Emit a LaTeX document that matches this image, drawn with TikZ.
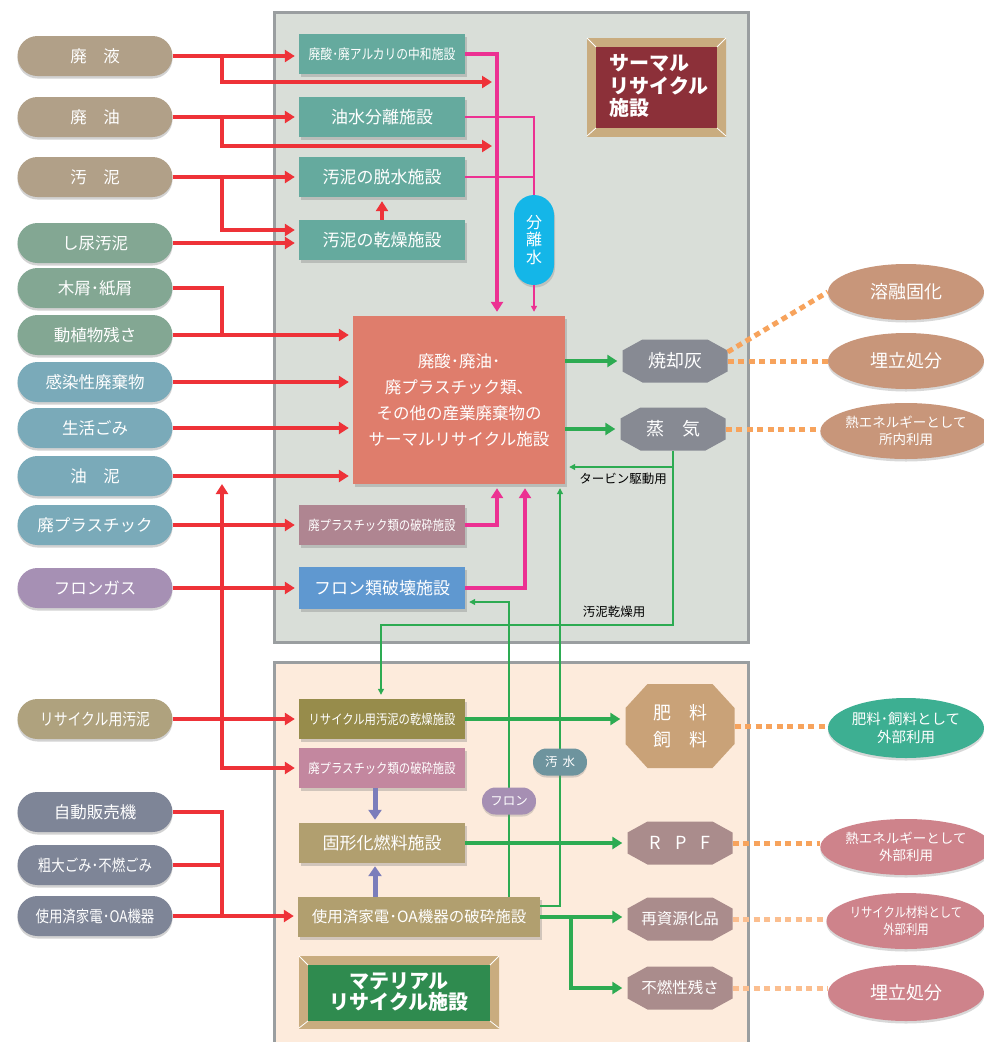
\documentclass[tikz,border=0pt]{standalone}
\usepackage{fontspec}
\setmainfont{Noto Sans CJK JP}
\newfontfamily\narrowjp{Noto Sans CJK JP}[FakeStretch=0.84]
\usetikzlibrary{positioning,calc,shapes.misc,shapes.geometric,shadows,arrows.meta}

\definecolor{redA}{HTML}{EE3238}
\definecolor{pinkA}{HTML}{EC3192}
\definecolor{greenA}{HTML}{2DAB52}
\definecolor{lavA}{HTML}{7B7DBB}
\definecolor{orangeA}{HTML}{F7A35C}
\definecolor{orangeB}{HTML}{FBBE8F}
\definecolor{thermalBg}{HTML}{D9DED8}
\definecolor{materialBg}{HTML}{FDEBDC}
\definecolor{borderGray}{HTML}{9A9EA0}
\definecolor{goldA}{HTML}{C9AC7F}
\definecolor{goldB}{HTML}{EEE2CA}
\definecolor{labelRed}{HTML}{8C3039}
\definecolor{labelGreen}{HTML}{2F8B4F}
\definecolor{pillTan}{HTML}{B1A088}
\definecolor{pillGreen}{HTML}{83A793}
\definecolor{pillBlue}{HTML}{7AAAB9}
\definecolor{pillPurple}{HTML}{A690B4}
\definecolor{pillOlive}{HTML}{AFA27E}
\definecolor{pillSlate}{HTML}{7E8597}
\definecolor{plantTeal}{HTML}{65AA9E}
\definecolor{mainSalmon}{HTML}{DF7D6C}
\definecolor{plantMauve}{HTML}{AF8591}
\definecolor{plantBlue}{HTML}{5F98D0}
\definecolor{plantOlive}{HTML}{978C4B}
\definecolor{plantPink}{HTML}{C3879F}
\definecolor{plantTan}{HTML}{B19F6F}
\definecolor{ashGray}{HTML}{878A93}
\definecolor{feedTan}{HTML}{C9A278}
\definecolor{rpfMauve}{HTML}{AA8C8C}
\definecolor{sepCyan}{HTML}{14B6E8}
\definecolor{tagBlue}{HTML}{6E949E}
\definecolor{tagPurple}{HTML}{A68FB3}
\definecolor{ovalBrown}{HTML}{C8967A}
\definecolor{ovalTeal}{HTML}{3DAF92}
\definecolor{ovalPink}{HTML}{CE838B}

\tikzstyle{pill} = [rounded rectangle, minimum width=155pt, minimum height=40pt,
    inner sep=0pt, text=white, font=\fontsize{16.5}{19}\selectfont,
    drop shadow={shadow xshift=0pt, shadow yshift=-2.5pt, opacity=0.35}]
\tikzstyle{plant} = [rectangle, minimum width=166pt, minimum height=40pt,
    inner sep=0pt, text=white, font=\fontsize{17}{19}\selectfont,
    drop shadow={shadow xshift=1.5pt, shadow yshift=-2.5pt, opacity=0.35}]
\tikzstyle{mainbox} = [rectangle, fill=mainSalmon, minimum width=212pt, minimum height=168pt,
    text=white, align=center, font=\fontsize{16.5}{26}\selectfont,
    drop shadow={shadow xshift=2pt, shadow yshift=-2.5pt, opacity=0.35}]
\tikzstyle{oval} = [ellipse, minimum width=156pt, minimum height=56pt, inner sep=0pt,
    text=white, align=center, font=\fontsize{18}{20}\selectfont,
    drop shadow={shadow xshift=0pt, shadow yshift=-2.5pt, opacity=0.3}]
\tikzstyle{tag} = [rounded rectangle, minimum width=54pt, minimum height=27pt, inner sep=0pt,
    text=white, font=\fontsize{12.5}{14}\selectfont,
    drop shadow={shadow xshift=0pt, shadow yshift=-2pt, opacity=0.3}]
\tikzstyle{note} = [inner sep=0pt, font=\fontsize{12.5}{14}\selectfont]
\tikzstyle{redline} = [draw=redA, line width=4pt, shorten >=4pt, -{Triangle[length=10pt,width=12pt]}]
\tikzstyle{redplain} = [draw=redA, line width=4pt]
\tikzstyle{pinkline} = [draw=pinkA, line width=4pt, shorten >=4pt, -{Triangle[length=10pt,width=12pt]}]
\tikzstyle{pinkthin} = [draw=pinkA, line width=1.3pt]
\tikzstyle{greenline} = [draw=greenA, line width=4pt, shorten >=5pt, -{Triangle[length=10pt,width=12pt]}]
\tikzstyle{greenthin} = [draw=greenA, line width=1.3pt, shorten >=4pt, -{Triangle[length=6pt,width=6pt]}]
\tikzstyle{lavline} = [draw=lavA, line width=5pt, shorten >=3pt, -{Triangle[length=10pt,width=13pt]}]
\tikzstyle{dotline} = [draw=orangeA, line width=5pt, dash pattern=on 6pt off 4.5pt]
\tikzstyle{dotlight} = [draw=orangeB, line width=5pt, dash pattern=on 6pt off 4.5pt]
\tikzset{octa/.style n args={3}{rectangle, minimum width=105pt, minimum height=43pt,
    inner sep=0pt, text=white, align=center, font=\fontsize{18}{27}\selectfont,
    path picture={\fill[#1]
      ([xshift=#2pt]path picture bounding box.north west) --
      ([xshift=-#2pt]path picture bounding box.north east) --
      ([yshift=-#3pt]path picture bounding box.north east) --
      ([yshift=#3pt]path picture bounding box.south east) --
      ([xshift=-#2pt]path picture bounding box.south east) --
      ([xshift=#2pt]path picture bounding box.south west) --
      ([yshift=#3pt]path picture bounding box.south west) --
      ([yshift=-#3pt]path picture bounding box.north west) -- cycle;}}}

\begin{document}
\begin{tikzpicture}[x=1pt, y=-1pt]
    \path[use as bounding box, fill=white] (0,0) rectangle (984,1042);
    % Draw boxes
    \draw[draw=borderGray, line width=3pt, fill=thermalBg] (274,12) rectangle (748,642);
    \draw[draw=borderGray, line width=3pt, fill=materialBg] (274,662) rectangle (748,1060);
    \shade[left color=goldA, middle color=goldB, right color=goldA] (587,38) rectangle (726,136);
    \fill[labelRed] (596,47) rectangle (717,128);
    \draw[white, line width=0.8pt] (587,38) -- (596,47) (726,38) -- (717,47)
        (587,136) -- (596,128) (726,136) -- (717,128);
    \shade[left color=goldA, middle color=goldB, right color=goldA] (299,956) rectangle (499,1028);
    \fill[labelGreen] (308,965) rectangle (490,1021);
    \draw[white, line width=0.8pt] (299,956) -- (308,965) (499,956) -- (490,965)
        (299,1028) -- (308,1021) (499,1028) -- (490,1021);
    \node[anchor=west, text=white, align=left, font=\bfseries\fontsize{20}{22.5}\selectfont]
        (tlabel) at (606,86) {サーマル\\リサイクル\\施設};
    \node[text=white, align=center, font=\bfseries\fontsize{20}{21.5}\selectfont]
        (mlabel) at (399,992) {マテリアル\\リサイクル施設};

    % Place nodes
    \node[pill, fill=pillTan] (liq) at (95,56) {廃　液};
    \node[pill, fill=pillTan] (oil) at (95,117) {廃　油};
    \node[pill, fill=pillTan] (sludge) at (95,177) {汚　泥};
    \node[pill, fill=pillGreen] (nsoil) at (95,243) {し尿汚泥};
    \node[pill, fill=pillGreen] (wood) at (95,288) {木屑･紙屑};
    \node[pill, fill=pillGreen] (food) at (95,335) {動植物残さ};
    \node[pill, fill=pillBlue] (med) at (95,382) {感染性廃棄物};
    \node[pill, fill=pillBlue] (life) at (95,428) {生活ごみ};
    \node[pill, fill=pillBlue] (oilsl) at (95,476) {油　泥};
    \node[pill, fill=pillBlue] (plast) at (95,525) {廃プラスチック};
    \node[pill, fill=pillPurple] (freon) at (95,588) {フロンガス};
    \node[pill, fill=pillOlive, font=\narrowjp\fontsize{16.5}{18}\selectfont] (rsl) at (95,719) {リサイクル用汚泥};
    \node[pill, fill=pillSlate] (vend) at (95,812) {自動販売機};
    \node[pill, fill=pillSlate, font=\narrowjp\fontsize{16}{18}\selectfont] (bulky) at (95,865) {粗大ごみ･不燃ごみ};
    \node[pill, fill=pillSlate, font=\narrowjp\fontsize{16}{18}\selectfont] (appl) at (95,916) {使用済家電･OA機器};

    \node[plant, fill=plantTeal, font=\narrowjp\fontsize{14}{16}\selectfont] (neutral) at (382,54) {廃酸･廃アルカリの中和施設};
    \node[plant, fill=plantTeal] (sepa) at (382,117) {油水分離施設};
    \node[plant, fill=plantTeal] (dewater) at (382,177) {汚泥の脱水施設};
    \node[plant, fill=plantTeal] (dryer) at (382,240) {汚泥の乾燥施設};
    \node[mainbox] (thermal) at (459,400) {廃酸･廃油･\\廃プラスチック類、\\その他の産業廃棄物の\\サーマルリサイクル施設};
    \node[plant, fill=plantMauve, font=\narrowjp\fontsize{13.5}{15}\selectfont] (crushA) at (382,525) {廃プラスチック類の破砕施設};
    \node[plant, fill=plantBlue, minimum height=42pt] (freonD) at (382,588) {フロン類破壊施設};
    \node[rectangle, rounded corners=20pt, fill=sepCyan, minimum width=40pt, minimum height=90pt,
        text=white, align=center, font=\fontsize{16}{17.5}\selectfont,
        drop shadow={shadow xshift=1pt, shadow yshift=-2.5pt, opacity=0.3}] (sepwater) at (534,240) {分\\離\\水};
    \node[octa={ashGray}{20}{11}] (ash) at (675,361) {焼却灰};
    \node[octa={ashGray}{20}{11}] (steam) at (673,429) {蒸　気};

    \node[plant, fill=plantOlive, font=\narrowjp\fontsize{13.5}{15}\selectfont] (rdry) at (382,719) {リサイクル用汚泥の乾燥施設};
    \node[plant, fill=plantPink, font=\narrowjp\fontsize{13.5}{15}\selectfont] (crushB) at (382,768) {廃プラスチック類の破砕施設};
    \node[plant, fill=plantTan] (rpfplant) at (382,843) {固形化燃料施設};
    \node[plant, fill=plantTan, minimum width=242pt, font=\fontsize{15.5}{17}\selectfont] (applcr) at (419,917) {使用済家電･OA機器の破砕施設};
    \node[octa={feedTan}{22}{24}, minimum width=109pt, minimum height=84pt] (feed) at (680,726) {肥　料\\飼　料};
    \node[octa={rpfMauve}{20}{11}] (rpf) at (680,843) {R\hspace{14pt}P\hspace{14pt}F};
    \node[octa={rpfMauve}{20}{11}, font=\fontsize{15.5}{17}\selectfont] (recyc) at (680,919) {再資源化品};
    \node[octa={rpfMauve}{20}{11}, font=\fontsize{15.5}{17}\selectfont] (residue) at (680,988) {不燃性残さ};

    \node[oval, fill=ovalBrown] (melt) at (906,292) {溶融固化};
    \node[oval, fill=ovalBrown] (landA) at (906,361) {埋立処分};
    \node[oval, fill=ovalBrown, font=\fontsize{13.5}{17}\selectfont] (heatin) at (906,431) {熱エネルギーとして\\所内利用};
    \node[oval, fill=ovalTeal, minimum height=60pt, font=\fontsize{14.5}{18}\selectfont] (feedout) at (906,728) {肥料･飼料として\\外部利用};
    \node[oval, fill=ovalPink, font=\fontsize{13.5}{17}\selectfont] (heatout) at (906,847) {熱エネルギーとして\\外部利用};
    \node[oval, fill=ovalPink, font=\narrowjp\fontsize{13.5}{17}\selectfont] (matout) at (906,921) {リサイクル材料として\\外部利用};
    \node[oval, fill=ovalPink] (landB) at (906,993) {埋立処分};

    \node[note] (dryuse) at (614,612) {汚泥乾燥用};
    \node[note] (turbuse) at (623,479) {タービン駆動用};

    % Draw edges
    \coordinate (jx) at (222,0);
    \coordinate (px) at (497,0);
    \coordinate (qx) at (525,0);
    \coordinate (gx) at (571,0);
    \coordinate (wx) at (560,0);
    \coordinate (fx) at (509,0);
    \coordinate (lx) at (375,0);
    \coordinate (endA) at (496,82);
    \coordinate (endB) at (496,146);
    \coordinate (upA) at (222,480);
    \coordinate (bend) at (381,625);
    \coordinate (turb) at (673,467);

    \path[redline] (liq.east) -- (liq.east -| neutral.west);
    \path[redline] (liq.east -| jx) |- (endA);
    \path[redline] (oil.east) -- (oil.east -| sepa.west);
    \path[redline] (oil.east -| jx) |- (endB);
    \path[redline] (sludge.east) -- (sludge.east -| dewater.west);
    \path[redline] (sludge.east -| jx) |- ([yshift=10pt]dryer.west);
    \path[redline] (nsoil.east) -- (nsoil.east -| dryer.west);
    \path[redline] (dryer.north) -- (dewater.south);
    \path[redplain] (wood.east) -| (food.east -| jx);
    \path[redline] (food.east) -- (food.east -| thermal.west);
    \path[redline] (med.east) -- (med.east -| thermal.west);
    \path[redline] (life.east) -- (life.east -| thermal.west);
    \path[redline] (oilsl.east) -- (oilsl.east -| thermal.west);
    \path[redline] (plast.east) -- (plast.east -| crushA.west);
    \path[redline] (freon.east) -- (freon.east -| freonD.west);
    \path[redline] (rsl.east) -- (rsl.east -| rdry.west);
    \path[redline] (rsl.east -| jx) -- (upA);
    \path[redline] (rsl.east -| jx) |- (crushB.west);
    \path[redplain] (vend.east) -| (appl.east -| jx);
    \path[redplain] (bulky.east) -- (bulky.east -| jx);
    \path[redline] (appl.east) -- (appl.east -| applcr.west);

    \path[pinkline] (neutral.east) -| (thermal.north -| px);
    \path[pinkthin] (sepa.east) -| (sepwater.north);
    \path[pinkthin] (dewater.east) -- (dewater.east -| sepwater.north);
    \path[pinkthin, shorten >=4pt, -{Triangle[length=6pt,width=6pt]}] (sepwater.south) -- (sepwater.south |- thermal.north);
    \path[pinkline] (crushA.east) -| (thermal.south -| px);
    \path[pinkline] (freonD.east) -| (thermal.south -| qx);

    \path[greenline] (ash.west -| thermal.east) -- (ash.west);
    \path[greenline] (steam.west -| thermal.east) -- (steam.west);
    \path[greenthin] (steam.south) |- (bend) -- (bend |- rdry.north);
    \path[greenthin] (turb) -- (turb -| thermal.east);
    \path[greenline] (rdry.east) -- (rdry.east -| feed.west);
    \path[greenline] (rpfplant.east) -- (rpfplant.east -| rpf.west);
    \path[greenline] (applcr.east) -- (applcr.east -| recyc.west);
    \path[greenline] (applcr.east -| gx) |- (residue.west);
    \path[greenthin] ([yshift=11pt]applcr.east) -| (thermal.south -| wx);
    \path[greenthin] (applcr.north -| fx) |- ([yshift=-14pt]freonD.east);

    \path[lavline] (crushB.south -| lx) -- (rpfplant.north -| lx);
    \path[lavline] (applcr.north -| lx) -- (rpfplant.south -| lx);

    \path[dotline] ([yshift=9pt]ash.east) -- (melt.west);
    \path[dotline] (ash.east) -- (ash.east -| landA.west);
    \path[dotline] (steam.east) -- (steam.east -| heatin.west);
    \path[dotline] (feed.east) -- (feed.east -| feedout.west);
    \path[dotline] (rpf.east) -- (rpf.east -| heatout.west);
    \path[dotlight] (recyc.east) -- (recyc.east -| matout.west);
    \path[dotlight] (residue.east) -- (residue.east -| landB.west);

    % Tags on the lines
    \node[tag, fill=tagBlue] (wwater) at (560,762) {汚\hspace{5pt}水};
    \node[tag, fill=tagPurple] (freontag) at (509,801) {フロン};
\end{tikzpicture}
\end{document}
